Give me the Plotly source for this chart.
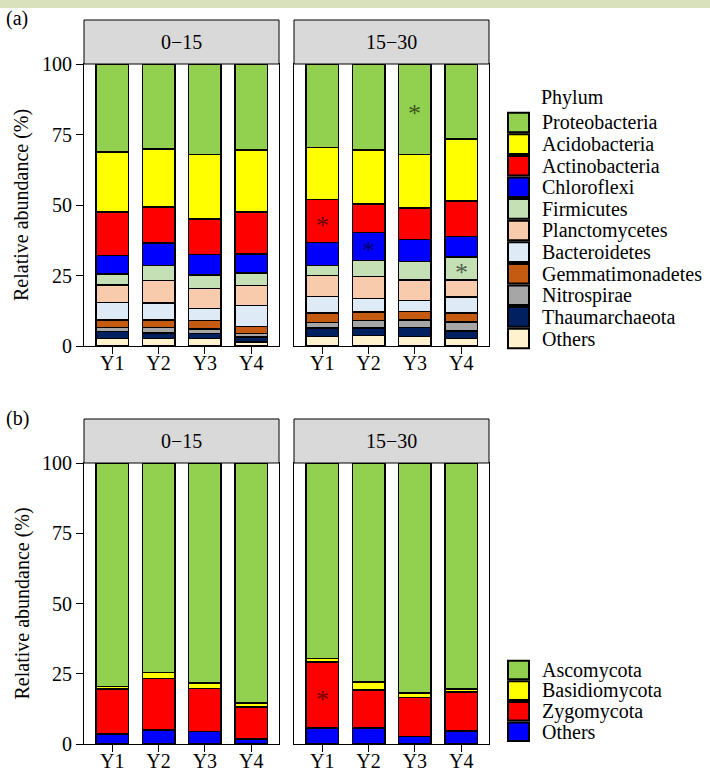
import plotly.graph_objects as go

W, H = 710, 774
FONT = "Liberation Serif"

years = ["Y1", "Y2", "Y3", "Y4"]
depths = ["0−15", "15−30"]

# Bacterial phyla, listed top of stack first
phyla = ["Proteobacteria", "Acidobacteria", "Actinobacteria", "Chloroflexi",
         "Firmicutes", "Planctomycetes", "Bacteroidetes", "Gemmatimonadetes",
         "Nitrospirae", "Thaumarchaeota", "Others"]
phylum_colors = ["#92D050", "#FFFF00", "#FF0000", "#0000FF", "#C5E0B4",
                 "#F8CBAD", "#DEEBF7", "#C55A11", "#A6A6A6", "#002060", "#FFF2CC"]

# Relative abundance (%), rows follow `phyla`, columns Y1..Y4
bacteria_0_15 = [
    [31.3, 30.1, 32.1, 30.4],
    [21.2, 20.6, 22.8, 22.1],
    [15.4, 12.8, 12.7, 14.8],
    [6.5, 8.0, 7.3, 6.9],
    [4.0, 5.3, 4.7, 4.4],
    [6.2, 8.0, 7.1, 7.1],
    [6.2, 6.0, 4.3, 7.4],
    [2.6, 2.6, 2.9, 2.4],
    [1.5, 1.9, 1.6, 1.4],
    [2.4, 2.1, 1.9, 1.6],
    [2.7, 2.6, 2.6, 1.5],
]
bacteria_15_30 = [
    [29.6, 30.4, 32.1, 26.6],
    [18.5, 19.3, 19.0, 21.9],
    [15.2, 10.0, 11.2, 12.7],
    [8.2, 10.0, 7.8, 7.3],
    [3.5, 5.7, 6.5, 8.1],
    [7.5, 7.7, 7.3, 6.1],
    [5.7, 4.8, 3.9, 5.5],
    [3.5, 3.1, 3.0, 3.2],
    [2.0, 2.7, 2.6, 3.2],
    [3.0, 2.6, 3.3, 2.8],
    [3.3, 3.7, 3.3, 2.6],
]

# Fungal phyla, listed top of stack first
fungi = ["Ascomycota", "Basidiomycota", "Zygomycota", "Others"]
fungus_colors = ["#92D050", "#FFFF00", "#FF0000", "#0000FF"]

fungi_0_15 = [
    [79.6, 74.5, 78.2, 85.5],
    [0.9, 2.2, 2.1, 1.4],
    [15.9, 18.3, 15.3, 11.4],
    [3.6, 5.0, 4.4, 1.7],
]
fungi_15_30 = [
    [69.5, 78.0, 81.9, 80.5],
    [1.4, 2.8, 1.5, 0.9],
    [23.5, 13.6, 14.0, 14.0],
    [5.6, 5.6, 2.6, 4.6],
]

# Significant differences: (panel, depth, year, taxon)
significant = [
    ("a", "15−30", "Y1", "Actinobacteria"),
    ("a", "15−30", "Y2", "Chloroflexi"),
    ("a", "15−30", "Y3", "Proteobacteria"),
    ("a", "15−30", "Y4", "Firmicutes"),
    ("b", "15−30", "Y1", "Zygomycota"),
]


def px_x(p):
    return p / W


def px_y(p):
    return 1 - p / H


# panel boxes in pixels: (left, right) and (top, bottom)
cols = [(84, 279), (294, 489)]
rows = {"a": (64, 346), "b": (463, 744)}
strip_h = 44

fig = go.Figure()
layout = dict(
    width=W, height=H, margin=dict(l=0, r=0, t=0, b=0, autoexpand=False),
    paper_bgcolor="white", plot_bgcolor="white",
    barmode="stack", showlegend=False,
    font=dict(family=FONT, size=20, color="black"),
)

panels = [
    ("a", 0, bacteria_0_15, phyla, phylum_colors),
    ("a", 1, bacteria_15_30, phyla, phylum_colors),
    ("b", 0, fungi_0_15, fungi, fungus_colors),
    ("b", 1, fungi_15_30, fungi, fungus_colors),
]

shapes = []
annotations = []

# page header band
shapes.append(dict(type="rect", xref="paper", yref="paper",
                   x0=0, x1=1, y0=px_y(8), y1=1,
                   fillcolor="#D9E0BC", line=dict(width=0), layer="below"))

for i, (panel, ci, table, names, colors) in enumerate(panels, start=1):
    xa = "x" if i == 1 else f"x{i}"
    ya = "y" if i == 1 else f"y{i}"
    left, right = cols[ci]
    top, bottom = rows[panel]

    # stack from the bottom category upward
    for name, color, vals in reversed(list(zip(names, colors, table))):
        fig.add_trace(go.Bar(
            x=years, y=vals, name=name, xaxis=xa, yaxis=ya,
            marker=dict(color=color, line=dict(color="black", width=1.6)),
            width=0.7,
        ))

    axis_common = dict(showgrid=False, zeroline=False, showline=True,
                       mirror=True, linecolor="black", linewidth=1,
                       automargin=False)
    layout["xaxis" if i == 1 else f"xaxis{i}"] = dict(
        domain=[px_x(left), px_x(right)], anchor=ya,
        type="category", categoryorder="array", categoryarray=years,
        range=[-0.61, 3.6], ticks="outside", ticklen=7, tickcolor="black",
        ticklabelstandoff=-8,
        tickfont=dict(family=FONT, size=20, color="black"), **axis_common)
    ydict = dict(domain=[px_y(bottom), px_y(top)], anchor=xa,
                 range=[0, 100], **axis_common)
    if ci == 0:
        ydict.update(tickvals=[0, 25, 50, 75, 100], ticks="outside",
                     ticklen=7, tickcolor="black",
                     tickfont=dict(family=FONT, size=20, color="black"))
    else:
        ydict.update(showticklabels=False, ticks="")
    layout["yaxis" if i == 1 else f"yaxis{i}"] = ydict

    # facet strip
    shapes.append(dict(type="rect", xref="paper", yref="paper",
                       x0=px_x(left), x1=px_x(right),
                       y0=px_y(top), y1=px_y(top - strip_h),
                       fillcolor="#D9D9D9", line=dict(color="black", width=1)))
    annotations.append(dict(xref="paper", yref="paper",
                            x=px_x((left + right) / 2),
                            y=px_y(top - strip_h / 2),
                            text=depths[ci], showarrow=False,
                            font=dict(family=FONT, size=20, color="black"),
                            xanchor="center", yanchor="middle"))

    # significance asterisks at the middle of the flagged segment
    for sp, sd, syear, taxon in significant:
        if sp != panel or sd != depths[ci]:
            continue
        k = names.index(taxon)
        j = years.index(syear)
        below = sum(table[m][j] for m in range(k + 1, len(names)))
        mid = below + table[k][j] / 2
        annotations.append(dict(xref=xa, yref=ya, x=syear, y=mid, text="*",
                                showarrow=False, yshift=-4,
                                font=dict(family=FONT, size=26,
                                          color="rgba(0,0,0,0.62)")))

# axis titles and panel tags
for panel, tag in (("a", "(a)"), ("b", "(b)")):
    top, bottom = rows[panel]
    annotations.append(dict(xref="paper", yref="paper", x=px_x(22),
                            y=px_y((top + bottom) / 2),
                            text="Relative abundance (%)", textangle=-90,
                            showarrow=False, xanchor="center", yanchor="middle",
                            font=dict(family=FONT, size=20, color="black")))
    annotations.append(dict(xref="paper", yref="paper", x=px_x(4),
                            y=px_y(top - 45), text=tag, showarrow=False,
                            xanchor="left", yanchor="middle",
                            font=dict(family=FONT, size=20, color="black")))


# legends drawn as keys + labels
def draw_legend(names, colors, first_y, step, title=None, title_y=None):
    if title:
        annotations.append(dict(xref="paper", yref="paper", x=px_x(539),
                                y=px_y(title_y), text=title, showarrow=False,
                                xanchor="left", yanchor="middle",
                                font=dict(family=FONT, size=20, color="black")))
    for n, (name, color) in enumerate(zip(names, colors)):
        cy = first_y + n * step
        shapes.append(dict(type="rect", xref="paper", yref="paper",
                           x0=px_x(508), x1=px_x(529),
                           y0=px_y(cy + step / 2 - 1), y1=px_y(cy - step / 2 + 1),
                           fillcolor=color, line=dict(color="black", width=2)))
        annotations.append(dict(xref="paper", yref="paper", x=px_x(540),
                                y=px_y(cy), text=name, showarrow=False,
                                xanchor="left", yanchor="middle",
                                font=dict(family=FONT, size=20, color="black")))


draw_legend(phyla, phylum_colors, 122.5, 21.6, title="Phylum", title_y=97)
draw_legend(fungi, fungus_colors, 670, 20.6)

layout["shapes"] = shapes
layout["annotations"] = annotations
fig.update_layout(**layout)
fig.write_html("out.html")
